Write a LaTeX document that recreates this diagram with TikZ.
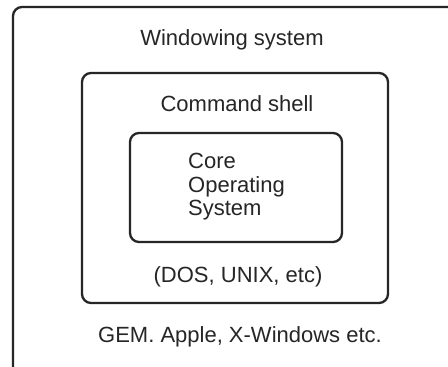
\documentclass[tikz,border=0pt]{standalone}
\usepackage{fontspec}
\setmainfont{Liberation Sans}
\begin{document}
\begin{tikzpicture}[x=1pt,y=-1pt,
  boxline/.style={draw=black!85, line width=2.3pt, rounded corners=9pt},
  lbl/.style={font=\fontsize{22}{26}\selectfont, text=black!85, inner sep=0pt}]
\useasboundingbox (0,0) rectangle (448,367);
\clip (0,0) rectangle (448,367);
\fill[white] (0,0) rectangle (448,367);
\draw[boxline] (13,7) rectangle (470,390);
\draw[boxline] (82,73) rectangle (388,303);
\draw[boxline] (130,133) rectangle (342,242);
\node[lbl] (win) at (232,40) {Windowing system};
\node[lbl] (cmd) at (237,104) {Command shell};
\node[lbl, anchor=west, align=left, font=\fontsize{22}{23.5}\selectfont] (core) at (188,187) {Core\\Operating\\System};
\node[lbl] (dos) at (238,277) {(DOS, UNIX, etc)};
\node[lbl] (gem) at (240,337) {GEM. Apple, X-Windows etc.};
\end{tikzpicture}
\end{document}
